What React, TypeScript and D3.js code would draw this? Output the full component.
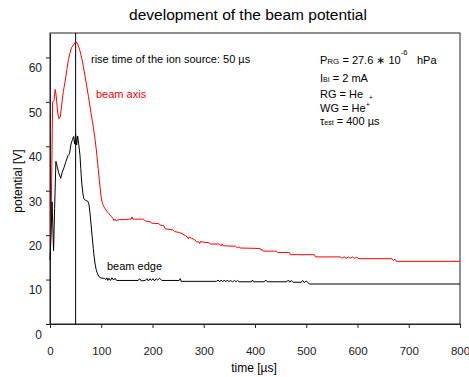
import React, { useEffect, useRef } from "react";
import * as d3 from "d3";

// time [µs], potential [V]
const beamAxis: [number, number][] = [
  [1, 18], [3, 30], [5, 50], [8, 50.3], [10, 52.8], [12, 51.5], [15, 47.5], [17.5, 46.2],
  [20, 46.6], [23, 49.5], [26, 52.3], [29, 54.3], [33, 57.3], [36, 59.5], [39, 61], [42, 62.2],
  [46, 62.8], [49, 63.4], [51, 63.5], [54, 63], [58, 61.7], [62, 59.8], [65, 58], [70, 54.7],
  [75, 51.2], [80, 47.5], [84.5, 44.4], [88, 41.5], [91, 38.5], [94, 35], [97, 31.5], [99.5, 28.8],
  [102, 27.2], [105, 26.4], [108, 25.9], [111, 25.3], [114, 25], [117, 24.5], [120, 24.2],
  [123, 23.7], [125, 23.3], [127, 23.6], [129, 23.2], [132, 23.4], [136, 23.5], [145, 23.5],
  [155, 23.6], [158, 23.6], [160, 24.1], [162, 23.6], [182, 23.6], [186, 23.2], [196, 23.0],
  [198, 22.7], [212, 22.6], [215, 22.3], [222, 22.1], [225, 21.4], [240, 21.2], [243, 20.8],
  [252, 20.6], [258, 20.3], [264, 19.9], [268, 19.6], [270, 19.2], [272, 19.6], [276, 19.3],
  [282, 19.0], [286, 18.5], [290, 18.5], [292, 18.1], [294, 18.6], [300, 18.4], [310, 18.3],
  [313, 18.0], [330, 18.0], [334, 17.6], [336, 18.0], [338, 17.6], [362, 17.5], [366, 17.1],
  [368, 17.4], [372, 17.1], [410, 17.0], [412, 16.6], [414, 16.8], [416, 16.4], [442, 16.4],
  [444, 16.1], [467, 16.1], [469, 15.6], [516, 15.6], [518, 15.1], [566, 15.1], [570, 14.8],
  [574, 15.1], [578, 14.8], [582, 15.1], [586, 14.8], [590, 15.1], [594, 14.8], [598, 15.0],
  [603, 14.7], [667, 14.7], [670, 14.3], [673, 14.6], [676, 14.1], [800, 14.1],
];

const beamEdge: [number, number][] = [
  [0, 14.4], [2, 20], [4, 27.5], [7, 16.5], [9, 26], [11.5, 36.6], [14, 35.5], [17, 34],
  [21, 32.8], [24, 34.2], [27, 35.1], [31, 36.5], [35, 37.9], [38, 38.3], [41, 40.5], [44, 41.6],
  [46, 42.2], [48, 40.5], [50, 42.8], [52, 40.3], [54, 42.3], [56, 40.5], [58.5, 38], [60, 35],
  [62, 31.7], [64, 29.5], [66, 28.2], [70, 27.8], [74, 27.6], [76, 27], [78, 25], [80, 22.5],
  [82, 20], [84.5, 17], [86, 15.3], [88, 13.5], [90, 12.3], [92, 11.5], [95, 10.8], [98, 10.4],
  [102, 10.3], [106, 10.3], [109, 10.0], [111, 10.4], [113, 9.8], [115, 10.3], [118, 9.8],
  [121, 10.4], [124, 9.9], [127, 10.3], [130, 9.8], [172, 9.8], [175, 10.2], [178, 9.7],
  [186, 9.8], [189, 10.2], [192, 9.7], [195, 10.2], [198, 9.8], [201, 10.2], [204, 9.7],
  [207, 10.2], [210, 9.9], [214, 10.3], [218, 9.8], [252, 9.8], [254, 10.2], [256, 9.6],
  [325, 9.6], [328, 9.9], [331, 9.5], [334, 9.9], [337, 9.5], [340, 9.9], [343, 9.5],
  [346, 9.9], [349, 9.5], [352, 9.8], [356, 9.5], [360, 9.8], [363, 9.5], [366, 9.8],
  [369, 9.5], [393, 9.5], [395, 9.9], [397, 9.5], [418, 9.5], [421, 9.9], [424, 9.5],
  [462, 9.5], [465, 9.9], [468, 9.4], [471, 9.8], [474, 9.4], [490, 9.4], [493, 9.8],
  [496, 9.3], [500, 9.7], [503, 9.3], [507, 9.0], [800, 9.0],
];

const xTicks = [0, 100, 200, 300, 400, 500, 600, 700, 800];
const yTicks = [0, 10, 20, 30, 40, 50, 60];
const riseTime = 50;

const W = 469;
const H = 377;
const FONT = "'Liberation Sans', Arial, sans-serif";

export default function App() {
  const ref = useRef<SVGSVGElement>(null);

  useEffect(() => {
    document.body.style.margin = "0";
    const svg = d3.select(ref.current).html("");
    svg.attr("width", W).attr("height", H).style("font-family", FONT);

    const left = 50, right = 460, top = 33, bottom = 324;
    const x = d3.scaleLinear().domain([0, 800]).range([left, right]);
    const y = d3.scaleLinear().domain([0, 65.5]).range([bottom, top]);

    // title
    svg.append("text")
      .attr("x", 248).attr("y", 20)
      .attr("text-anchor", "middle")
      .attr("font-size", 15.5)
      .text("development of the beam potential");

    // frame
    svg.append("rect")
      .attr("x", left).attr("y", top)
      .attr("width", right - left).attr("height", bottom - top)
      .attr("fill", "none").attr("stroke", "#222").attr("stroke-width", 1);

    // axes
    const xAxis = svg.append("g")
      .attr("transform", `translate(0,${bottom})`)
      .call(d3.axisBottom(x).tickValues(xTicks).tickSize(4).tickSizeOuter(0).tickPadding(19));
    xAxis.selectAll("text").attr("font-size", 11.5).attr("font-family", FONT).attr("fill", "#222");

    const yAxis = svg.append("g")
      .attr("transform", `translate(${left},0)`)
      .call(d3.axisLeft(y).tickValues(yTicks).tickSize(4).tickSizeOuter(0).tickPadding(4));
    yAxis.selectAll("text")
      .attr("font-size", 12).attr("font-family", FONT).attr("fill", "#222")
      .attr("transform", "translate(0,10.5)");
    svg.selectAll(".domain").attr("stroke", "#222");
    svg.selectAll(".tick line").attr("stroke", "#222");

    // axis titles
    svg.append("text")
      .attr("x", 254).attr("y", 372)
      .attr("text-anchor", "middle").attr("font-size", 12)
      .text("time [µs]");
    svg.append("text")
      .attr("transform", "translate(22,181) rotate(-90)")
      .attr("text-anchor", "middle").attr("font-size", 12)
      .text("potential [V]");

    // rise time marker
    svg.append("line")
      .attr("x1", x(riseTime)).attr("x2", x(riseTime))
      .attr("y1", top).attr("y2", bottom)
      .attr("stroke", "#000").attr("stroke-width", 1);

    const line = d3.line<[number, number]>().x(d => x(d[0])).y(d => y(d[1]));

    svg.append("path").datum(beamAxis)
      .attr("d", line).attr("fill", "none")
      .attr("stroke", "#ff0000").attr("stroke-width", 1);
    svg.append("path").datum(beamEdge)
      .attr("d", line).attr("fill", "none")
      .attr("stroke", "#000").attr("stroke-width", 1);

    // annotations
    svg.append("text").attr("x", 91).attr("y", 63).attr("font-size", 11)
      .text("rise time of the ion source: 50 µs");
    svg.append("text").attr("x", 96).attr("y", 98).attr("font-size", 11)
      .attr("fill", "#ff0000").text("beam axis");
    svg.append("text").attr("x", 107).attr("y", 270).attr("font-size", 11)
      .text("beam edge");

    const info = svg.append("g").attr("font-size", 11);
    const tx = 320;

    const l1 = info.append("text").attr("x", tx).attr("y", 64);
    l1.append("tspan").text("P");
    l1.append("tspan").attr("font-size", 8).text("RG");
    l1.append("tspan").text(" = 27.6 \u2217 10");
    l1.append("tspan").attr("font-size", 7.5).attr("dy", -9).text("-6");
    l1.append("tspan").attr("x", 417).attr("dy", 9).text("hPa");

    const l2 = info.append("text").attr("x", tx).attr("y", 82);
    l2.append("tspan").text("I");
    l2.append("tspan").attr("font-size", 7).text("BI");
    l2.append("tspan").text(" = 2 mA");

    const l3 = info.append("text").attr("x", tx).attr("y", 98);
    l3.append("tspan").text("RG = He");
    l3.append("tspan").attr("font-size", 6.5).attr("dx", 6).attr("dy", 2).text("+");

    const l4 = info.append("text").attr("x", tx).attr("y", 112);
    l4.append("tspan").text("WG = He");
    l4.append("tspan").attr("font-size", 6.5).attr("dx", 0.5).attr("dy", -5).text("+");

    const l5 = info.append("text").attr("x", tx).attr("y", 125);
    l5.append("tspan").text("\u03c4");
    l5.append("tspan").attr("font-size", 7).text("est");
    l5.append("tspan").text(" = 400 µs");
  }, []);

  return <svg ref={ref} style={{ display: "block" }} />;
}
